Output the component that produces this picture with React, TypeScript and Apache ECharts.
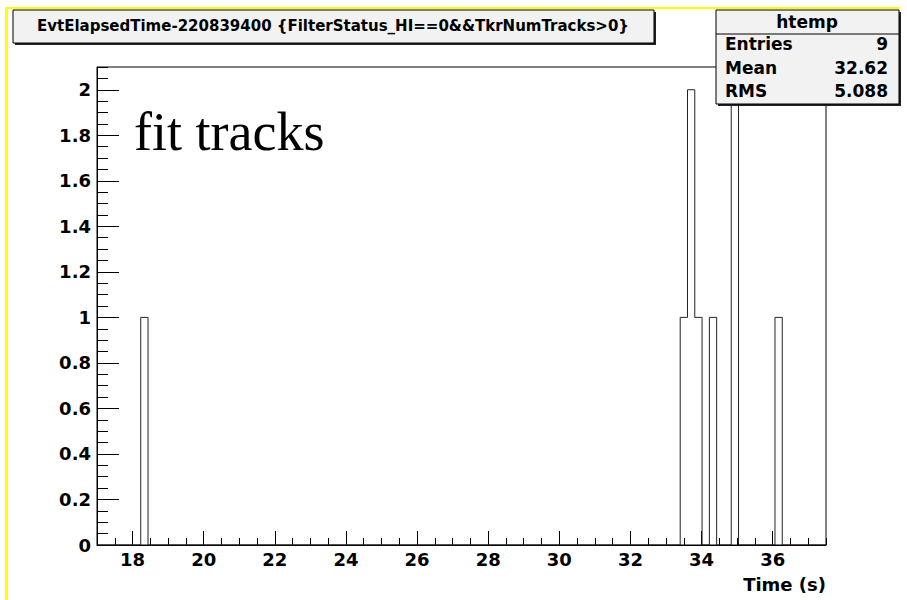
import React, { useEffect, useRef } from "react";
import * as echarts from "echarts";

// ---- data ----
const X_MIN = 17;
const X_MAX = 37.5;
const N_BINS = 100;
const filledBins = [6, 80, 81, 82, 84, 87, 93];
const binCounts = [1, 1, 2, 1, 1, 2, 1];
const xTickLabels = [18, 20, 22, 24, 26, 28, 30, 32, 34, 36];
const yTickLabels = [0, 0.2, 0.4, 0.6, 0.8, 1, 1.2, 1.4, 1.6, 1.8, 2];
const Y_MAX = 2.1;
const titleText = "EvtElapsedTime-220839400 {FilterStatus_HI==0&&TkrNumTracks>0}";
const statsName = "htemp";
const statsLabels = ["Entries", "Mean", "RMS"];
const statsValues = ["9", "32.62", "5.088"];
const annotation = "fit tracks";
const xAxisTitle = "Time (s)";

const SANS = "'DejaVu Sans', 'Liberation Sans', Arial, sans-serif";

export default function App() {
  const ref = useRef<HTMLDivElement>(null);

  useEffect(() => {
    document.body.style.margin = "0";
    if (!ref.current) return;
    const chart = echarts.init(ref.current, undefined, { renderer: "svg" });

    const binWidth = (X_MAX - X_MIN) / N_BINS;
    const counts: number[] = new Array(N_BINS).fill(0);
    filledBins.forEach((b, i) => {
      counts[b] = binCounts[i];
    });
    const stepData: number[][] = counts.map((c, k) => [X_MIN + k * binWidth, c]);
    stepData.push([X_MAX, 0]);

    const labelStyle = {
      fontFamily: SANS,
      fontWeight: "bold" as const,
      fontSize: 18,
      color: "#000",
    };

    const statsRowsY = [44, 68, 91];
    const statsGraphics: any[] = [];
    statsLabels.forEach((l, i) => {
      statsGraphics.push({
        type: "text",
        z: 102,
        style: {
          text: l,
          x: 725,
          y: statsRowsY[i],
          align: "left",
          verticalAlign: "middle",
          font: `bold 17px ${SANS}`,
          fill: "#000",
        },
      });
      statsGraphics.push({
        type: "text",
        z: 102,
        style: {
          text: statsValues[i],
          x: 888,
          y: statsRowsY[i],
          align: "right",
          verticalAlign: "middle",
          font: `bold 17px ${SANS}`,
          fill: "#000",
        },
      });
    });

    chart.setOption({
      animation: false,
      backgroundColor: "#fff",
      grid: {
        left: 97,
        top: 67,
        right: 81,
        bottom: 55,
        show: true,
        borderColor: "#000",
        borderWidth: 1,
        backgroundColor: "transparent",
      },
      xAxis: [
        {
          type: "value",
          position: "bottom",
          min: X_MIN,
          max: X_MAX,
          interval: 0.5,
          axisLine: { show: true, onZero: false, lineStyle: { color: "#000", width: 1 } },
          axisTick: { show: true, inside: true, length: 7, lineStyle: { color: "#000" } },
          axisLabel: { show: false },
          splitLine: { show: false },
        },
        {
          type: "value",
          position: "bottom",
          min: X_MIN,
          max: X_MAX,
          axisLine: { show: false, onZero: false },
          axisTick: {
            show: true,
            inside: true,
            length: 14,
            customValues: xTickLabels,
            lineStyle: { color: "#000" },
          },
          axisLabel: { ...labelStyle, margin: 5, customValues: xTickLabels },
          splitLine: { show: false },
          name: xAxisTitle,
          nameLocation: "end",
          nameGap: 0,
          nameTextStyle: {
            ...labelStyle,
            align: "right",
            verticalAlign: "top",
            padding: [30, 0, 0, 0],
          },
        },
      ],
      yAxis: [
        {
          type: "value",
          position: "left",
          min: 0,
          max: Y_MAX,
          interval: 0.05,
          axisLine: { show: true, onZero: false, lineStyle: { color: "#000", width: 1 } },
          axisTick: { show: true, inside: true, length: 11, lineStyle: { color: "#000" } },
          axisLabel: { show: false },
          splitLine: { show: false },
        },
        {
          type: "value",
          position: "left",
          min: 0,
          max: Y_MAX,
          axisLine: { show: false, onZero: false },
          axisTick: {
            show: true,
            inside: true,
            length: 22,
            customValues: yTickLabels,
            lineStyle: { color: "#000" },
          },
          axisLabel: { ...labelStyle, margin: 6, customValues: yTickLabels },
          splitLine: { show: false },
        },
      ],
      series: [
        {
          type: "line",
          xAxisIndex: 0,
          yAxisIndex: 0,
          step: "end",
          data: stepData,
          symbol: "none",
          lineStyle: { color: "#222", width: 1 },
          clip: true,
          z: 3,
        },
      ],
      graphic: [
        // yellow canvas highlight edges
        { type: "rect", z: 90, shape: { x: 5, y: 7, width: 3, height: 593 }, style: { fill: "#ffff00" } },
        { type: "rect", z: 90, shape: { x: 5, y: 7, width: 895, height: 2 }, style: { fill: "#ffff00" } },
        // title box
        { type: "rect", z: 100, shape: { x: 15, y: 12, width: 641, height: 33 }, style: { fill: "#222" } },
        {
          type: "rect",
          z: 101,
          shape: { x: 13, y: 10, width: 641, height: 33 },
          style: { fill: "#f2f2f2", stroke: "#000", lineWidth: 1 },
        },
        {
          type: "text",
          z: 102,
          style: {
            text: titleText,
            x: 333,
            y: 26,
            align: "center",
            verticalAlign: "middle",
            font: `bold 15px ${SANS}`,
            fill: "#000",
          },
        },
        // stats box
        { type: "rect", z: 100, shape: { x: 718, y: 12, width: 183, height: 94 }, style: { fill: "#222" } },
        {
          type: "rect",
          z: 101,
          shape: { x: 716, y: 10, width: 183, height: 94 },
          style: { fill: "#f2f2f2", stroke: "#000", lineWidth: 1 },
        },
        {
          type: "line",
          z: 102,
          shape: { x1: 716, y1: 34, x2: 899, y2: 34 },
          style: { stroke: "#000", lineWidth: 1 },
        },
        {
          type: "text",
          z: 102,
          style: {
            text: statsName,
            x: 807,
            y: 22,
            align: "center",
            verticalAlign: "middle",
            font: `bold 17px ${SANS}`,
            fill: "#000",
          },
        },
        ...statsGraphics,
        // annotation
        {
          type: "text",
          z: 102,
          style: {
            text: annotation,
            x: 134,
            y: 132,
            align: "left",
            verticalAlign: "middle",
            font: `54px 'Liberation Serif', 'Times New Roman', serif`,
            fill: "#000",
          },
        },
      ],
    });

    return () => {
      chart.dispose();
    };
  }, []);

  return <div ref={ref} style={{ width: 907, height: 600 }} />;
}
